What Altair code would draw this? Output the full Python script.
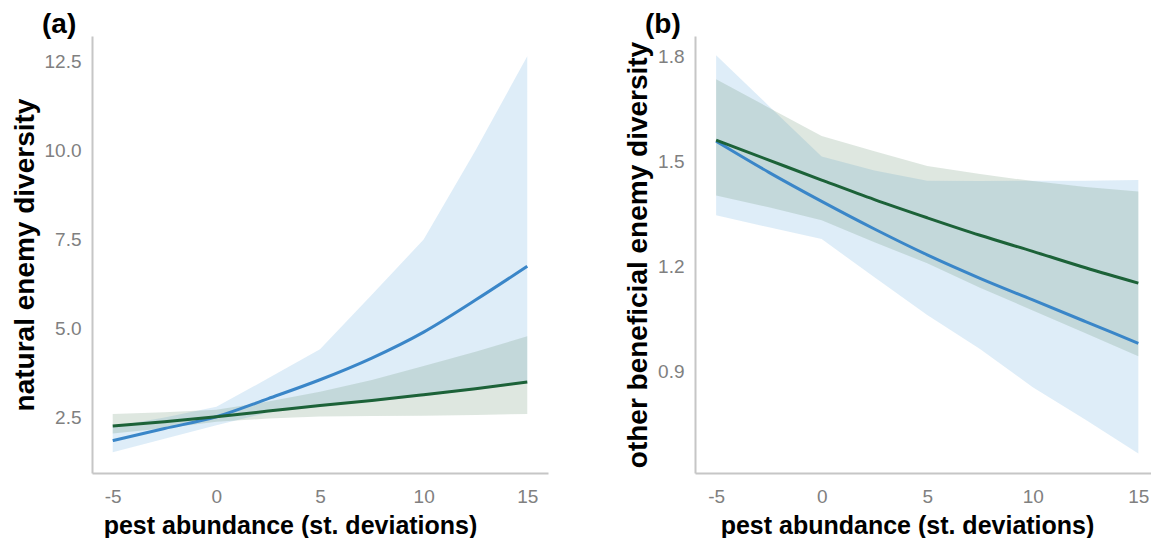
import altair as alt
import pandas as pd

# shared x positions (pest abundance, st. deviations)
x_vals = [-5, -2.5, 0, 2.5, 5, 7.5, 10, 12.5, 15]
x_ticks = [-5, 0, 5, 10, 15]

# panel (a): natural enemy diversity
a_blue_fit = [1.85, 2.19, 2.52, 3.03, 3.56, 4.17, 4.90, 5.80, 6.75]
a_blue_lo = [1.52, 1.90, 2.28, 2.64, 2.80, 2.94, 3.10, 3.27, 3.46]
a_blue_hi = [2.25, 2.50, 2.80, 3.60, 4.42, 5.95, 7.50, 10.00, 12.65]
a_green_fit = [2.26, 2.38, 2.52, 2.68, 2.84, 2.98, 3.14, 3.31, 3.50]
a_green_lo = [2.05, 2.20, 2.38, 2.47, 2.53, 2.54, 2.55, 2.57, 2.60]
a_green_hi = [2.60, 2.65, 2.72, 2.95, 3.22, 3.55, 3.95, 4.35, 4.78]
a_y_ticks = [2.5, 5.0, 7.5, 10.0, 12.5]

# panel (b): other beneficial enemy diversity
b_blue_fit = [1.559, 1.470, 1.387, 1.308, 1.234, 1.167, 1.105, 1.043, 0.981]
b_blue_lo = [1.347, 1.313, 1.279, 1.170, 1.062, 0.965, 0.855, 0.762, 0.666]
b_blue_hi = [1.805, 1.660, 1.515, 1.475, 1.446, 1.445, 1.446, 1.446, 1.448]
b_green_fit = [1.562, 1.505, 1.448, 1.392, 1.340, 1.290, 1.244, 1.197, 1.153]
b_green_lo = [1.404, 1.370, 1.333, 1.270, 1.210, 1.140, 1.075, 1.010, 0.944]
b_green_hi = [1.736, 1.655, 1.574, 1.530, 1.488, 1.465, 1.445, 1.428, 1.415]
b_y_ticks = [0.9, 1.2, 1.5, 1.8]

BLUE_LINE = "#3a86c8"
GREEN_LINE = "#1c6238"
BLUE_FILL = "rgb(90,165,220)"
GREEN_FILL = "rgb(90,135,100)"
FONT = "Liberation Sans"


def panel(label, ytitle, ydom, yticks, xdom, w, h, title_x,
          bfit, blo, bhi, gfit, glo, ghi):
    df = pd.DataFrame({
        "x": x_vals,
        "bfit": bfit, "blo": blo, "bhi": bhi,
        "gfit": gfit, "glo": glo, "ghi": ghi,
    })
    xenc = alt.X("x:Q", scale=alt.Scale(domain=xdom, nice=False, zero=False),
                 axis=alt.Axis(values=x_ticks, title="pest abundance (st. deviations)",
                               labelExpr="'' + datum.value",
                               titleX=title_x, titleAlign="center"))
    yaxis = alt.Axis(values=yticks, title=ytitle, format=".1f")
    yscale = alt.Scale(domain=ydom, nice=False, zero=False)

    base = alt.Chart(df)
    band_b = base.mark_area(color=BLUE_FILL, opacity=0.2).encode(
        x=xenc, y=alt.Y("blo:Q", scale=yscale, axis=yaxis), y2="bhi:Q")
    band_g = base.mark_area(color=GREEN_FILL, opacity=0.2).encode(
        x=xenc, y=alt.Y("glo:Q", scale=yscale, axis=yaxis), y2="ghi:Q")
    line_b = base.mark_line(color=BLUE_LINE, strokeWidth=3, interpolate="monotone").encode(
        x=xenc, y=alt.Y("bfit:Q", scale=yscale, axis=yaxis))
    line_g = base.mark_line(color=GREEN_LINE, strokeWidth=3, interpolate="monotone").encode(
        x=xenc, y=alt.Y("gfit:Q", scale=yscale, axis=yaxis))
    return alt.layer(band_b, band_g, line_b, line_g).properties(
        width=w, height=h,
        title=alt.TitleParams(label, anchor="start", frame="group", dx=-50,
                              fontSize=28, font=FONT, fontWeight="bold",
                              color="black", offset=-3),
    )


pa = panel("(a)", "natural enemy diversity", [0.94, 13.22], a_y_ticks,
           [-6, 16], 456, 437, 198,
           a_blue_fit, a_blue_lo, a_blue_hi, a_green_fit, a_green_lo, a_green_hi)
pb = panel("(b)", "other beneficial enemy diversity", [0.61, 1.86], b_y_ticks,
           [-6, 15.6], 456, 437, 212,
           b_blue_fit, b_blue_lo, b_blue_hi, b_green_fit, b_green_lo, b_green_hi)

chart = alt.hconcat(pa, pb, spacing=76).properties(
    padding={"left": 3, "top": 3, "right": 0, "bottom": 0}
).configure_view(stroke=None).configure_axis(
    grid=False, ticks=False, tickSize=0,
    domainColor="#c6c6c6", domainWidth=2,
    labelFont=FONT, labelFontSize=19, labelColor="#808080",
    titleFont=FONT, titleFontWeight="bold", titleColor="black",
).configure_axisX(
    titleFontSize=25, titlePadding=7, labelPadding=14,
).configure_axisY(
    titleFontSize=28, titlePadding=5, labelPadding=11,
)

chart.save("out.html", embed_options={"renderer": "svg", "actions": False})
